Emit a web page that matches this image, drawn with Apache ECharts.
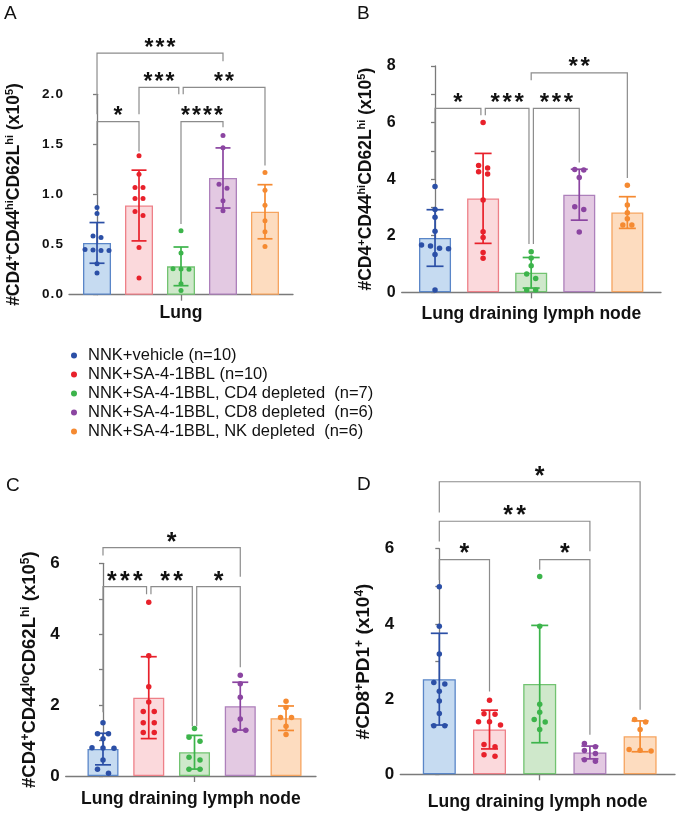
<!DOCTYPE html>
<html><head><meta charset="utf-8">
<script src="https://cdn.jsdelivr.net/npm/echarts@6/dist/echarts.min.js"></script>
<style>html,body{margin:0;padding:0;background:#fff}#c{width:676px;height:814px}</style>
</head><body><div id="c"></div>
<script>
// ---------------- DATA ----------------
const groups = ['NNK+vehicle (n=10)', 'NNK+SA-4-1BBL (n=10)', 'NNK+SA-4-1BBL, CD4 depleted  (n=7)', 'NNK+SA-4-1BBL, CD8 depleted  (n=6)', 'NNK+SA-4-1BBL, NK depleted  (n=6)'];

// Panel A (Lung, CD4+CD44hiCD62Lhi x10^5)
const aVehicle = [0.87, 0.81, 0.585, 0.57, 0.45, 0.445, 0.44, 0.44, 0.31, 0.217];
const aSA      = [1.387, 1.203, 1.07, 1.07, 0.96, 0.96, 0.83, 0.79, 0.47, 0.167];
const aCD4     = [0.637, 0.417, 0.26, 0.257, 0.255, 0.11, 0.043];
const aCD8     = [1.59, 1.467, 1.103, 1.063, 0.937, 0.837];
const aNK      = [1.22, 1.043, 0.893, 0.737, 0.627, 0.48];
const aMean    = [0.517, 0.89, 0.283, 1.165, 0.828];
const aSD      = [0.203, 0.353, 0.193, 0.30, 0.27];
const aBrackets = [[0, 3, 2.41, 1.80, 2.33], [1, 2, 2.07, 1.80, 2.00], [2, 4, 2.07, 2.00, 1.29], [0, 1, 1.727, 1.01, 1.43], [2, 3, 1.727, 0.705, 1.67]];
const aStars = ['***', '***', '**', '*', '****'];

// Panel B (LDLN, CD4+CD44hiCD62Lhi x10^5)
const bVehicle = [3.74, 2.93, 2.65, 2.16, 1.67, 1.64, 1.56, 1.54, 1.34, 0.08];
const bSA      = [6.0, 4.48, 4.39, 4.26, 4.18, 3.26, 2.14, 1.94, 1.41, 1.2];
const bCD4     = [1.435, 1.21, 0.94, 0.65, 0.49, 0.08, 0.08];
const bCD8     = [4.34, 4.32, 4.06, 3.02, 2.93, 2.13];
const bNK      = [3.78, 3.09, 2.81, 2.6, 2.38, 2.38];
const bMean    = [1.92, 3.32, 0.69, 3.45, 2.82];
const bSD      = [1.0, 1.59, 0.54, 0.9, 0.56];
const bBrackets = [[2, 4, 7.76, 7.5, 4.04], [0, 1, 6.5, 4.0, 6.26], [1, 2, 6.5, 6.26, 1.71], [2, 3, 6.5, 1.71, 4.59]];
const bStars = ['**', '*', '***', '***'];

// Panel C (LDLN, CD4+CD44loCD62Lhi x10^5)
const cVehicle = [1.505, 1.195, 1.19, 1.05, 0.8, 0.79, 0.78, 0.45, 0.19, 0.075];
const cSA      = [4.9, 3.39, 2.52, 2.09, 1.82, 1.82, 1.5, 1.5, 1.23, 1.23];
const cCD4     = [1.34, 1.09, 0.98, 0.53, 0.45, 0.19, 0.19];
const cCD8     = [2.84, 2.6, 2.22, 1.61, 1.29, 1.29];
const cNK      = [2.11, 1.93, 1.65, 1.65, 1.4, 1.17];
const cMean    = [0.76, 2.21, 0.67, 1.97, 1.63];
const cSD      = [0.445, 1.155, 0.475, 0.675, 0.345];
const cBrackets = [[0, 3, 6.44, 6.22, 5.62], [0, 1, 5.34, 1.80, 5.13], [1, 2, 5.34, 5.13, 1.40], [2, 3, 5.34, 1.40, 3.07]];
const cStars = ['*', '***', '**', '*'];

// Panel D (LDLN, CD8+PD1+ x10^4)
const dVehicle = [4.99, 3.94, 3.2, 2.44, 2.4, 2.21, 1.95, 1.62, 1.29, 1.29];
const dSA      = [1.97, 1.61, 1.6, 1.4, 1.4, 1.31, 0.79, 0.73, 0.52, 0.48];
const dCD4     = [5.26, 3.94, 1.86, 1.65, 1.46, 1.39, 1.19];
const dCD8     = [0.82, 0.73, 0.63, 0.55, 0.39, 0.35];
const dNK      = [1.46, 1.39, 1.19, 0.66, 0.64, 0.62];
const dMean    = [2.53, 1.19, 2.40, 0.58, 1.01];
const dSD      = [1.22, 0.515, 1.56, 0.17, 0.41];
const dBrackets = [[0, 4, 7.78, 6.96, 1.72], [0, 3, 6.73, 6.19, 5.93], [0, 1, 5.71, 5.17, 2.2], [2, 3, 5.71, 5.44, 1.05]];
const dStars = ['*', '**', '*', '*'];

const xTitles = ['Lung', 'Lung draining lymph node', 'Lung draining lymph node', 'Lung draining lymph node'];
const yTitles = [
  '{m|#CD4}{s|+}{m|CD44}{s|hi}{m|CD62L}{s|hi}{m| (x10}{s|5}{m|)}',
  '{m|#CD4}{s|+}{m|CD44}{s|hi}{m|CD62L}{s|hi}{m| (x10}{s|5}{m|)}',
  '{m|#CD4}{s|+}{m|CD44}{s|lo}{m|CD62L}{s|hi}{m| (x10}{s|5}{m|)}',
  '{m|#CD8}{s|+}{m|PD1}{s|+}{m| (x10}{s|4}{m|)}'
];
const yMax = [2, 8, 6, 6];
const yInterval = [0.5, 2, 2, 2];
const letters = ['A', 'B', 'C', 'D'];

// ---------------- STYLE / LAYOUT ----------------
const FONT = '"Liberation Sans", Arial, Helvetica, sans-serif';
const dotColors  = ['#2b4fa6', '#e8212b', '#3cb44b', '#8b45a1', '#f58a31'];
const fillColors = ['#c6dbf1', '#fbd9dc', '#cfe8cb', '#e3c9e2', '#fddcbf'];
const edgeColors = ['#5a86c8', '#ee8088', '#72c371', '#ad80bb', '#f6a45f'];
const AXIS = '#7a7a7a';

const geom = [
  {left: 69, top: 94.3, width: 224, height: 200.4, xmin: -0.667, xmax: 4.667, minor: false, barW: 28, capW: 15, labelSize: 13.5, dec: 1, nameSize: 17.5, nameGap: 45, xNameGap: 9, starSize: 23, starSp: 11, spread: 8, dot: 5, letter: [4, 4]},
  {left: 401.7, top: 66, width: 259.3, height: 226.3, xmin: -0.693, xmax: 4.70, minor: true, barW: 32, capW: 17, labelSize: 16, dec: 0, nameSize: 17.5, nameGap: 26, xNameGap: 13, starSize: 24, starSp: 12, spread: 9, dot: 5.5, letter: [357, 4]},
  {left: 65.7, top: 563.3, width: 250.3, height: 212.7, xmin: -0.815, xmax: 4.655, minor: true, barW: 31, capW: 16, labelSize: 17, dec: 0, nameSize: 18.5, nameGap: 26, xNameGap: 14, starSize: 25, starSp: 13, spread: 11, dot: 5.5, letter: [6, 476]},
  {left: 400.3, top: 548.7, width: 274.7, height: 225.6, xmin: -0.777, xmax: 4.695, minor: true, barW: 33, capW: 17, labelSize: 17, dec: 0, nameSize: 19, nameGap: 26, xNameGap: 19, starSize: 25, starSp: 13, spread: 11, dot: 5.5, letter: [357, 475]}
];

const panels = [
  {dots: [aVehicle, aSA, aCD4, aCD8, aNK], mean: aMean, sd: aSD, br: aBrackets, stars: aStars},
  {dots: [bVehicle, bSA, bCD4, bCD8, bNK], mean: bMean, sd: bSD, br: bBrackets, stars: bStars},
  {dots: [cVehicle, cSA, cCD4, cCD8, cNK], mean: cMean, sd: cSD, br: cBrackets, stars: cStars},
  {dots: [dVehicle, dSA, dCD4, dCD8, dNK], mean: dMean, sd: dSD, br: dBrackets, stars: dStars}
];

// simple beeswarm: cluster points closer than thr pixels, spread them symmetrically
function swarm(vals, pxY, pxX, spreadPx, thr) {
  const idx = vals.map((v, i) => i).sort((a, b) => vals[b] - vals[a]);
  const out = new Array(vals.length).fill(0);
  let cl = [];
  const flush = () => { const n = cl.length; cl.forEach((k, j) => { out[k] = (j - (n - 1) / 2) * spreadPx / pxX; }); cl = []; };
  idx.forEach(k => {
    if (cl.length && (vals[cl[0]] - vals[k]) * pxY > thr) flush();
    cl.push(k);
  });
  flush();
  return out;
}

const grids = [], xAxes = [], yAxes = [], series = [], graphics = [];

panels.forEach((P, p) => {
  const G = geom[p];
  grids.push({left: G.left, top: G.top, width: G.width, height: G.height, containLabel: false, outerBoundsMode: 'none'});
  xAxes.push({
    gridIndex: p, type: 'value', min: G.xmin, max: G.xmax,
    axisLine: {show: true, onZero: false, lineStyle: {color: AXIS, width: 1.3}},
    axisTick: {show: true, customValues: [2], length: 6, lineStyle: {color: AXIS, width: 1.3}},
    axisLabel: {show: false}, splitLine: {show: false},
    name: xTitles[p], nameLocation: 'middle', nameGap: G.xNameGap,
    nameTextStyle: {fontSize: 17.5, fontWeight: 'bold', color: '#111', fontFamily: FONT, verticalAlign: 'top'}
  });
  yAxes.push({
    gridIndex: p, type: 'value', min: 0, max: yMax[p], interval: yInterval[p],
    axisLine: {show: true, lineStyle: {color: AXIS, width: 1.3}},
    axisTick: {show: true, length: 4, lineStyle: {color: AXIS, width: 1.3}},
    minorTick: {show: G.minor, splitNumber: 2, length: 4, lineStyle: {color: AXIS, width: 1.3}},
    splitLine: {show: false}, minorSplitLine: {show: false},
    axisLabel: {fontSize: G.labelSize, fontWeight: 'bold', color: '#111', fontFamily: FONT, margin: 6,
      formatter: v => G.dec ? v.toFixed(1).split('').join('\u200A') : String(v)},
    name: yTitles[p], nameLocation: 'middle', nameRotate: 90, nameGap: G.nameGap,
    nameTextStyle: {
      color: '#111', fontFamily: FONT, fontWeight: 'bold', fontSize: G.nameSize,
      rich: {
        m: {fontSize: G.nameSize, fontWeight: 'bold', color: '#111', fontFamily: FONT, lineHeight: G.nameSize + 2, verticalAlign: 'middle'},
        s: {fontSize: Math.round(G.nameSize * 0.64), fontWeight: 'bold', color: '#111', fontFamily: FONT, lineHeight: Math.round(G.nameSize * 0.64), verticalAlign: 'top'}
      }
    }
  });

  // bars
  series.push({
    type: 'bar', xAxisIndex: p, yAxisIndex: p, barWidth: G.barW, silent: true, z: 2,
    data: P.mean.map((m, i) => ({value: [i, m], itemStyle: {color: fillColors[i], borderColor: edgeColors[i], borderWidth: 1.3}}))
  });
  // error bars (mean ± SD)
  series.push({
    type: 'custom', xAxisIndex: p, yAxisIndex: p, z: 3, silent: true,
    data: P.mean.map((m, i) => [i, m, P.sd[i]]),
    renderItem: (params, api) => {
      const x = api.value(0), m = api.value(1), s = api.value(2);
      const t = api.coord([x, m + s]), b = api.coord([x, m - s]);
      const hw = G.capW / 2, c = dotColors[params.dataIndex];
      const st = {stroke: c, lineWidth: 1.7};
      return {type: 'group', children: [
        {type: 'line', shape: {x1: t[0], y1: t[1], x2: b[0], y2: b[1]}, style: st},
        {type: 'line', shape: {x1: t[0] - hw, y1: t[1], x2: t[0] + hw, y2: t[1]}, style: st},
        {type: 'line', shape: {x1: b[0] - hw, y1: b[1], x2: b[0] + hw, y2: b[1]}, style: st}
      ]};
    }
  });
  // dots
  const pxY = G.height / yMax[p];
  const pxX = G.width / (G.xmax - G.xmin);
  P.dots.forEach((vals, g) => {
    const off = swarm(vals, pxY, pxX, G.spread, 5);
    series.push({
      type: 'scatter', name: groups[g], xAxisIndex: p, yAxisIndex: p, z: 4, silent: true,
      symbol: 'circle', symbolSize: G.dot, itemStyle: {color: dotColors[g], opacity: 1},
      data: vals.map((v, k) => [g + off[k], v])
    });
  });
  // significance brackets
  series.push({
    type: 'custom', xAxisIndex: p, yAxisIndex: p, z: 5, silent: true, clip: false,
    data: P.br.map(b => [b[0], b[2]]),
    renderItem: (params, api) => {
      const i = params.dataIndex, b = P.br[i];
      let x1 = api.coord([b[0], 0])[0], x2 = api.coord([b[1], 0])[0];
      const gap = 2.2;
      P.br.forEach((o, j) => {
        if (j === i || Math.abs(o[2] - b[2]) > 1e-6) return;
        if (o[1] === b[0]) x1 += gap;
        if (o[0] === b[1]) x2 -= gap;
      });
      const yT = api.coord([0, b[2]])[1], y1 = api.coord([0, b[3]])[1], y2 = api.coord([0, b[4]])[1];
      const children = [{type: 'polyline', shape: {points: [[x1, y1], [x1, yT], [x2, yT], [x2, y2]]},
        style: {stroke: '#8c8c8c', lineWidth: 1.2, fill: 'none'}}];
      const n = P.stars[i].length, cx = (x1 + x2) / 2;
      for (let k = 0; k < n; k++) {
        children.push({type: 'text', style: {text: '*', x: cx + (k - (n - 1) / 2) * G.starSp, y: yT - 5,
          align: 'center', verticalAlign: 'middle', fontSize: G.starSize, fontWeight: 'bold', fontFamily: FONT, fill: '#111'}});
      }
      return {type: 'group', children};
    }
  });
  graphics.push({type: 'text', left: G.letter[0], top: G.letter[1], style: {text: letters[p], fontSize: 19, fontFamily: FONT, fill: '#111'}});
});

const chart = echarts.init(document.getElementById('c'), null, {renderer: 'canvas', width: 676, height: 814});
chart.setOption({
  animation: false,
  backgroundColor: '#fff',
  grid: grids, xAxis: xAxes, yAxis: yAxes, series: series,
  legend: {
    show: true, data: groups, orient: 'vertical', left: 66, top: 341, icon: 'circle',
    itemWidth: 6, itemHeight: 6, itemGap: 0, selectedMode: false,
    textStyle: {fontSize: 16.5, color: '#111', fontFamily: FONT, lineHeight: 19, padding: [0, 0, 0, 6]}
  },
  graphic: graphics
});
</script></body></html>
